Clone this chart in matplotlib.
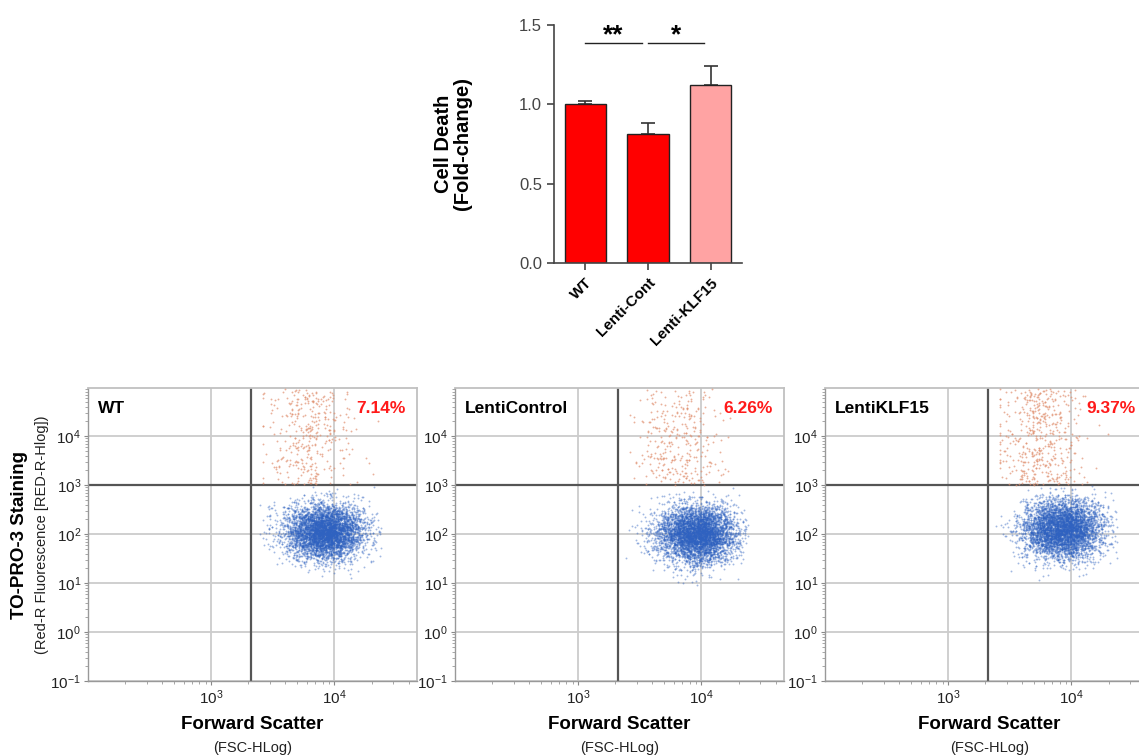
import numpy as np
import matplotlib as mpl
mpl.use('Agg')
import matplotlib.pyplot as plt
from matplotlib.ticker import LogLocator, NullFormatter, FixedLocator

mpl.rc('font', **{'family': ['Liberation Sans', 'DejaVu Sans'], 'size': 11})
mpl.rc('mathtext', fontset='custom', rm='Liberation Sans', it='Liberation Sans', bf='Liberation Sans:bold')

# bar chart values
groups = ['WT', 'Lenti-Cont', 'Lenti-KLF15']
fold = [1.00, 0.81, 1.12]
fold_err = [0.02, 0.07, 0.12]
bar_colors = ['#ff0000', '#ff0000', '#ffa3a3']
sig_pairs = [(0, 1), (1, 2)]
sig_marks = ['**', '*']

# flow panels: read gate percentages and cluster centres (log10 units)
panel_names = ['WT', 'LentiControl', 'LentiKLF15']
dead_pct = [7.14, 6.26, 9.37]
live_fsc = [3.92, 3.96, 3.93]
live_red = [2.05, 2.00, 2.10]
live_fsc_sd = [0.16, 0.16, 0.16]
live_red_sd = [0.28, 0.29, 0.30]
dead_fsc = [3.78, 3.80, 3.74]
dead_fsc_sd = [0.18, 0.18, 0.17]
n_events = 5000
fsc_gate = 2090
red_gate = 1000

W, H = 1139, 756
fig = plt.figure(figsize=(W / 100, H / 100), dpi=100)

# ---- bar chart ----
ax = fig.add_axes([554 / W, 1 - 263 / H, 188 / W, 238 / H])
x = np.arange(len(groups))
ax.bar(x, fold, width=0.66, color=bar_colors, edgecolor='#222222', linewidth=1.0, zorder=2)
ax.errorbar(x, fold, yerr=[np.zeros(3), fold_err], fmt='none', ecolor='#333333',
            elinewidth=1.2, capsize=5, capthick=1.2, zorder=1)
ax.set_xlim(-0.5, 2.5)
ax.set_ylim(0, 1.5)
ax.set_yticks([0, 0.5, 1.0, 1.5])
ax.set_yticklabels(['0.0', '0.5', '1.0', '1.5'], fontsize=12, color='#333333')
ax.set_xticks(x)
ax.set_xticklabels(groups, rotation=45, ha='right', rotation_mode='anchor',
                   fontsize=11, fontweight='bold')
for s in ['top', 'right']:
    ax.spines[s].set_visible(False)
for s in ['left', 'bottom']:
    ax.spines[s].set_color('#444444')
    ax.spines[s].set_linewidth(1.2)
ax.tick_params(colors='#444444', length=5, width=1.2)
ax.tick_params(axis='x', labelcolor='black', pad=4)
for (a, b), m in zip(sig_pairs, sig_marks):
    ax.plot([a, b - 0.1], [1.385, 1.385], color='#222222', lw=1.0, clip_on=False)
    ax.text((a + b - 0.1) / 2, 1.36, m, ha='center', va='bottom', fontsize=19,
            fontweight='bold')
ax.set_ylabel('Cell Death\n(Fold-change)', fontsize=14.5, fontweight='bold',
              linespacing=1.0, labelpad=34)

# ---- flow panels ----
rng = np.random.default_rng(11)
lefts = [88, 455, 825]
for i, name in enumerate(panel_names):
    ax = fig.add_axes([lefts[i] / W, 1 - 681 / H, 329 / W, 293 / H])
    n_dead = int(round(n_events * dead_pct[i] / 100))
    n_live = n_events - n_dead

    lx = rng.normal(live_fsc[i], live_fsc_sd[i], n_live * 2)
    ly = rng.normal(live_red[i], live_red_sd[i], n_live * 2)
    keep = (ly < 2.99) & (lx > np.log10(fsc_gate) + 0.06) & (lx < 4.38)
    lx, ly = lx[keep][:n_live], ly[keep][:n_live]
    dx = rng.normal(dead_fsc[i], dead_fsc_sd[i], n_dead)
    dx = np.clip(dx, np.log10(fsc_gate) + 0.1, 4.35)
    dy = rng.uniform(3.0, 4.96, n_dead)

    ax.scatter(10 ** lx, 10 ** ly, s=1.8, c='#2f62c0', alpha=0.45, linewidths=0, zorder=3)
    ax.scatter(10 ** dx, 10 ** dy, s=1.8, c='#e0906f', alpha=0.7, linewidths=0, zorder=3)

    ax.set_xscale('log')
    ax.set_yscale('log')
    ax.set_xlim(100, 10 ** 4.67)
    ax.set_ylim(0.1, 10 ** 4.98)
    ax.yaxis.set_major_locator(FixedLocator([0.1, 1, 10, 100, 1000, 10000]))
    ax.set_yticklabels(['10$^{-1}$', '10$^{0}$', '10$^{1}$', '10$^{2}$', '10$^{3}$', '10$^{4}$'],
                       fontsize=11)
    ax.xaxis.set_major_locator(FixedLocator([1000, 10000]))
    ax.set_xticklabels(['10$^{3}$', '10$^{4}$'], fontsize=11)
    ax.yaxis.set_minor_locator(LogLocator(base=10, subs=np.arange(2, 10), numticks=20))
    ax.xaxis.set_minor_locator(LogLocator(base=10, subs=np.arange(2, 10), numticks=20))
    ax.yaxis.set_minor_formatter(NullFormatter())
    ax.xaxis.set_minor_formatter(NullFormatter())
    ax.tick_params(which='major', length=3, color='#888888', pad=2, labelcolor='#222222')
    ax.tick_params(which='minor', length=2, color='#999999')
    ax.grid(True, which='major', color='#cccccc', lw=1.3, zorder=0)
    for s in ['top', 'right']:
        ax.spines[s].set_color('#c0c0c0')
        ax.spines[s].set_linewidth(1.3)
    for s in ['left', 'bottom']:
        ax.spines[s].set_color('#999999')
        ax.spines[s].set_linewidth(1.0)
    ax.axvline(fsc_gate, color='#555555', lw=1.6, zorder=2)
    ax.axhline(red_gate, color='#555555', lw=1.6, zorder=2)

    ax.text(0.03, 0.955, name, transform=ax.transAxes, ha='left', va='top',
            fontsize=12.5, fontweight='bold')
    # right-hand panel runs past the figure edge, keep its percentage inside
    px = min(lefts[i] + 0.965 * 329, 1136) / W
    fig.text(px, 1 - (388 + 0.045 * 293) / H, '%.2f%%' % dead_pct[i], ha='right',
             va='top', fontsize=12.5, fontweight='bold', color='#ff1a1a')

    ax.set_xlabel('Forward Scatter', fontsize=13.5, fontweight='bold', labelpad=7)
    ax.text(0.5, -0.205, '(FSC-HLog)', transform=ax.transAxes, ha='center', va='top',
            fontsize=10.5, color='#222222')

fig.text(20 / W, 1 - 535 / H, 'TO-PRO-3 Staining', rotation=90, ha='center', va='center',
         fontsize=13.5, fontweight='bold')
fig.text(42 / W, 1 - 535 / H, '(Red-R Fluorescence [RED-R-Hlog])', rotation=90,
         ha='center', va='center', fontsize=10.5, color='#222222')

fig.savefig('out.png', dpi=100)
